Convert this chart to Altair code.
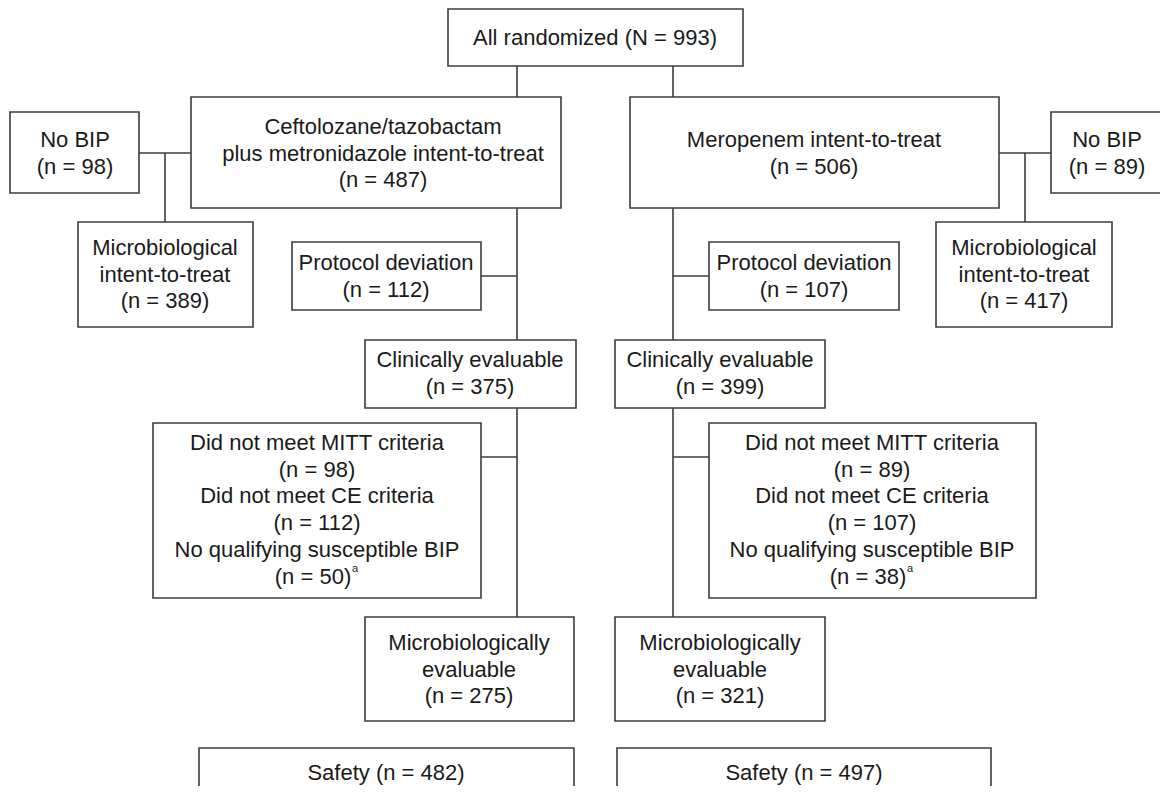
import altair as alt
import pandas as pd

# ---- boxes (page pixel coordinates) ----
box_id = ["all", "ceft", "mero", "nobipL", "nobipR", "mittL", "mittR", "pdL", "pdR",
          "ceL", "ceR", "dnmL", "dnmR", "meL", "meR", "safL", "safR"]
box_x1 = [448, 191, 630, 10, 1051, 78, 936, 292, 709, 365, 615, 153, 709, 365, 615, 199, 617]
box_x2 = [743, 561, 999, 139, 1163, 253, 1112, 481, 899, 576, 825, 481, 1036, 574, 825, 574, 991]
box_y1 = [9, 97, 97, 112, 112, 222, 222, 242, 242, 340, 340, 423, 423, 617, 617, 748, 748]
box_y2 = [66, 208, 208, 193, 193, 327, 327, 310, 310, 408, 408, 598, 598, 721, 721, 830, 830]

labels = [
    "All randomized (N = 993)",
    "Ceftolozane/tazobactam\nplus metronidazole intent-to-treat\n(n = 487)",
    "Meropenem intent-to-treat\n(n = 506)",
    "No BIP\n(n = 98)",
    "No BIP\n(n = 89)",
    "Microbiological\nintent-to-treat\n(n = 389)",
    "Microbiological\nintent-to-treat\n(n = 417)",
    "Protocol deviation\n(n = 112)",
    "Protocol deviation\n(n = 107)",
    "Clinically evaluable\n(n = 375)",
    "Clinically evaluable\n(n = 399)",
    "Did not meet MITT criteria\n(n = 98)\nDid not meet CE criteria\n(n = 112)\nNo qualifying susceptible BIP",
    "Did not meet MITT criteria\n(n = 89)\nDid not meet CE criteria\n(n = 107)\nNo qualifying susceptible BIP",
    "(n = 50)",
    "(n = 38)",
    "Microbiologically\nevaluable\n(n = 275)",
    "Microbiologically\nevaluable\n(n = 321)",
    "Safety (n = 482)",
    "Safety (n = 497)",
]
# centre x of each label and y of its first line
label_x = [595, 383, 814, 75, 1107, 165, 1024, 386, 804, 470, 720, 317, 872, 313, 868, 469, 720, 386, 804]
label_y = [37.5, 127, 140, 140, 140, 248, 248, 263, 263, 360, 360, 443, 443, 577, 577, 643, 643, 773, 773]

# footnote markers
note_text = ["a", "a"]
note_x = [352, 907]
note_y = [569, 569]

# ---- connector lines ----
ln_x1 = [517, 673, 139, 165, 999, 1025, 517, 481, 517, 481, 673, 673, 673, 673]
ln_y1 = [66, 66, 153, 153, 153, 153, 208, 276, 408, 457, 208, 276, 408, 457]
ln_x2 = [517, 673, 191, 165, 1051, 1025, 517, 517, 517, 517, 673, 709, 673, 709]
ln_y2 = [97, 97, 153, 222, 153, 222, 340, 276, 617, 457, 340, 276, 617, 457]

W, H = 1152, 778
X0, Y0 = 8, 8
xs = alt.Scale(domain=[X0, X0 + W], nice=False, zero=False)
ys = alt.Scale(domain=[Y0, Y0 + H], nice=False, zero=False, reverse=True)

boxes = pd.DataFrame({"id": box_id, "x1": box_x1, "x2": box_x2, "y1": box_y1, "y2": box_y2})
texts = pd.DataFrame({"label": labels, "x": label_x, "y": label_y})
notes = pd.DataFrame({"t": note_text, "x": note_x, "y": note_y})
lines = pd.DataFrame({"x1": ln_x1, "y1": ln_y1, "x2": ln_x2, "y2": ln_y2})

LINE = "#3c3c3c"
FONT = "Liberation Sans"

rule_layer = alt.Chart(lines).mark_rule(color=LINE, strokeWidth=1.6).encode(
    x=alt.X("x1:Q", scale=xs, axis=None),
    y=alt.Y("y1:Q", scale=ys, axis=None),
    x2="x2:Q",
    y2="y2:Q",
)

box_layer = alt.Chart(boxes).mark_rect(fill="white", stroke=LINE, strokeWidth=1.6, clip=True).encode(
    x=alt.X("x1:Q", scale=xs, axis=None),
    x2="x2:Q",
    y=alt.Y("y1:Q", scale=ys, axis=None),
    y2="y2:Q",
)

text_layer = alt.Chart(texts).mark_text(
    font=FONT, fontSize=22, lineBreak="\n", lineHeight=26.7,
    align="center", baseline="middle", color="#1a1a1a",
).encode(
    x=alt.X("x:Q", scale=xs, axis=None),
    y=alt.Y("y:Q", scale=ys, axis=None),
    text="label:N",
)

note_layer = alt.Chart(notes).mark_text(
    font=FONT, fontSize=11, align="left", baseline="middle", color="#1a1a1a",
).encode(
    x=alt.X("x:Q", scale=xs, axis=None),
    y=alt.Y("y:Q", scale=ys, axis=None),
    text="t:N",
)

chart = alt.layer(rule_layer, box_layer, text_layer, note_layer).properties(
    width=W, height=H, padding=0,
    autosize=alt.AutoSizeParams(type="none"),
    background="white",
).configure_view(strokeWidth=0)

chart.save("out.html", embed_options={"renderer": "svg", "actions": False})
